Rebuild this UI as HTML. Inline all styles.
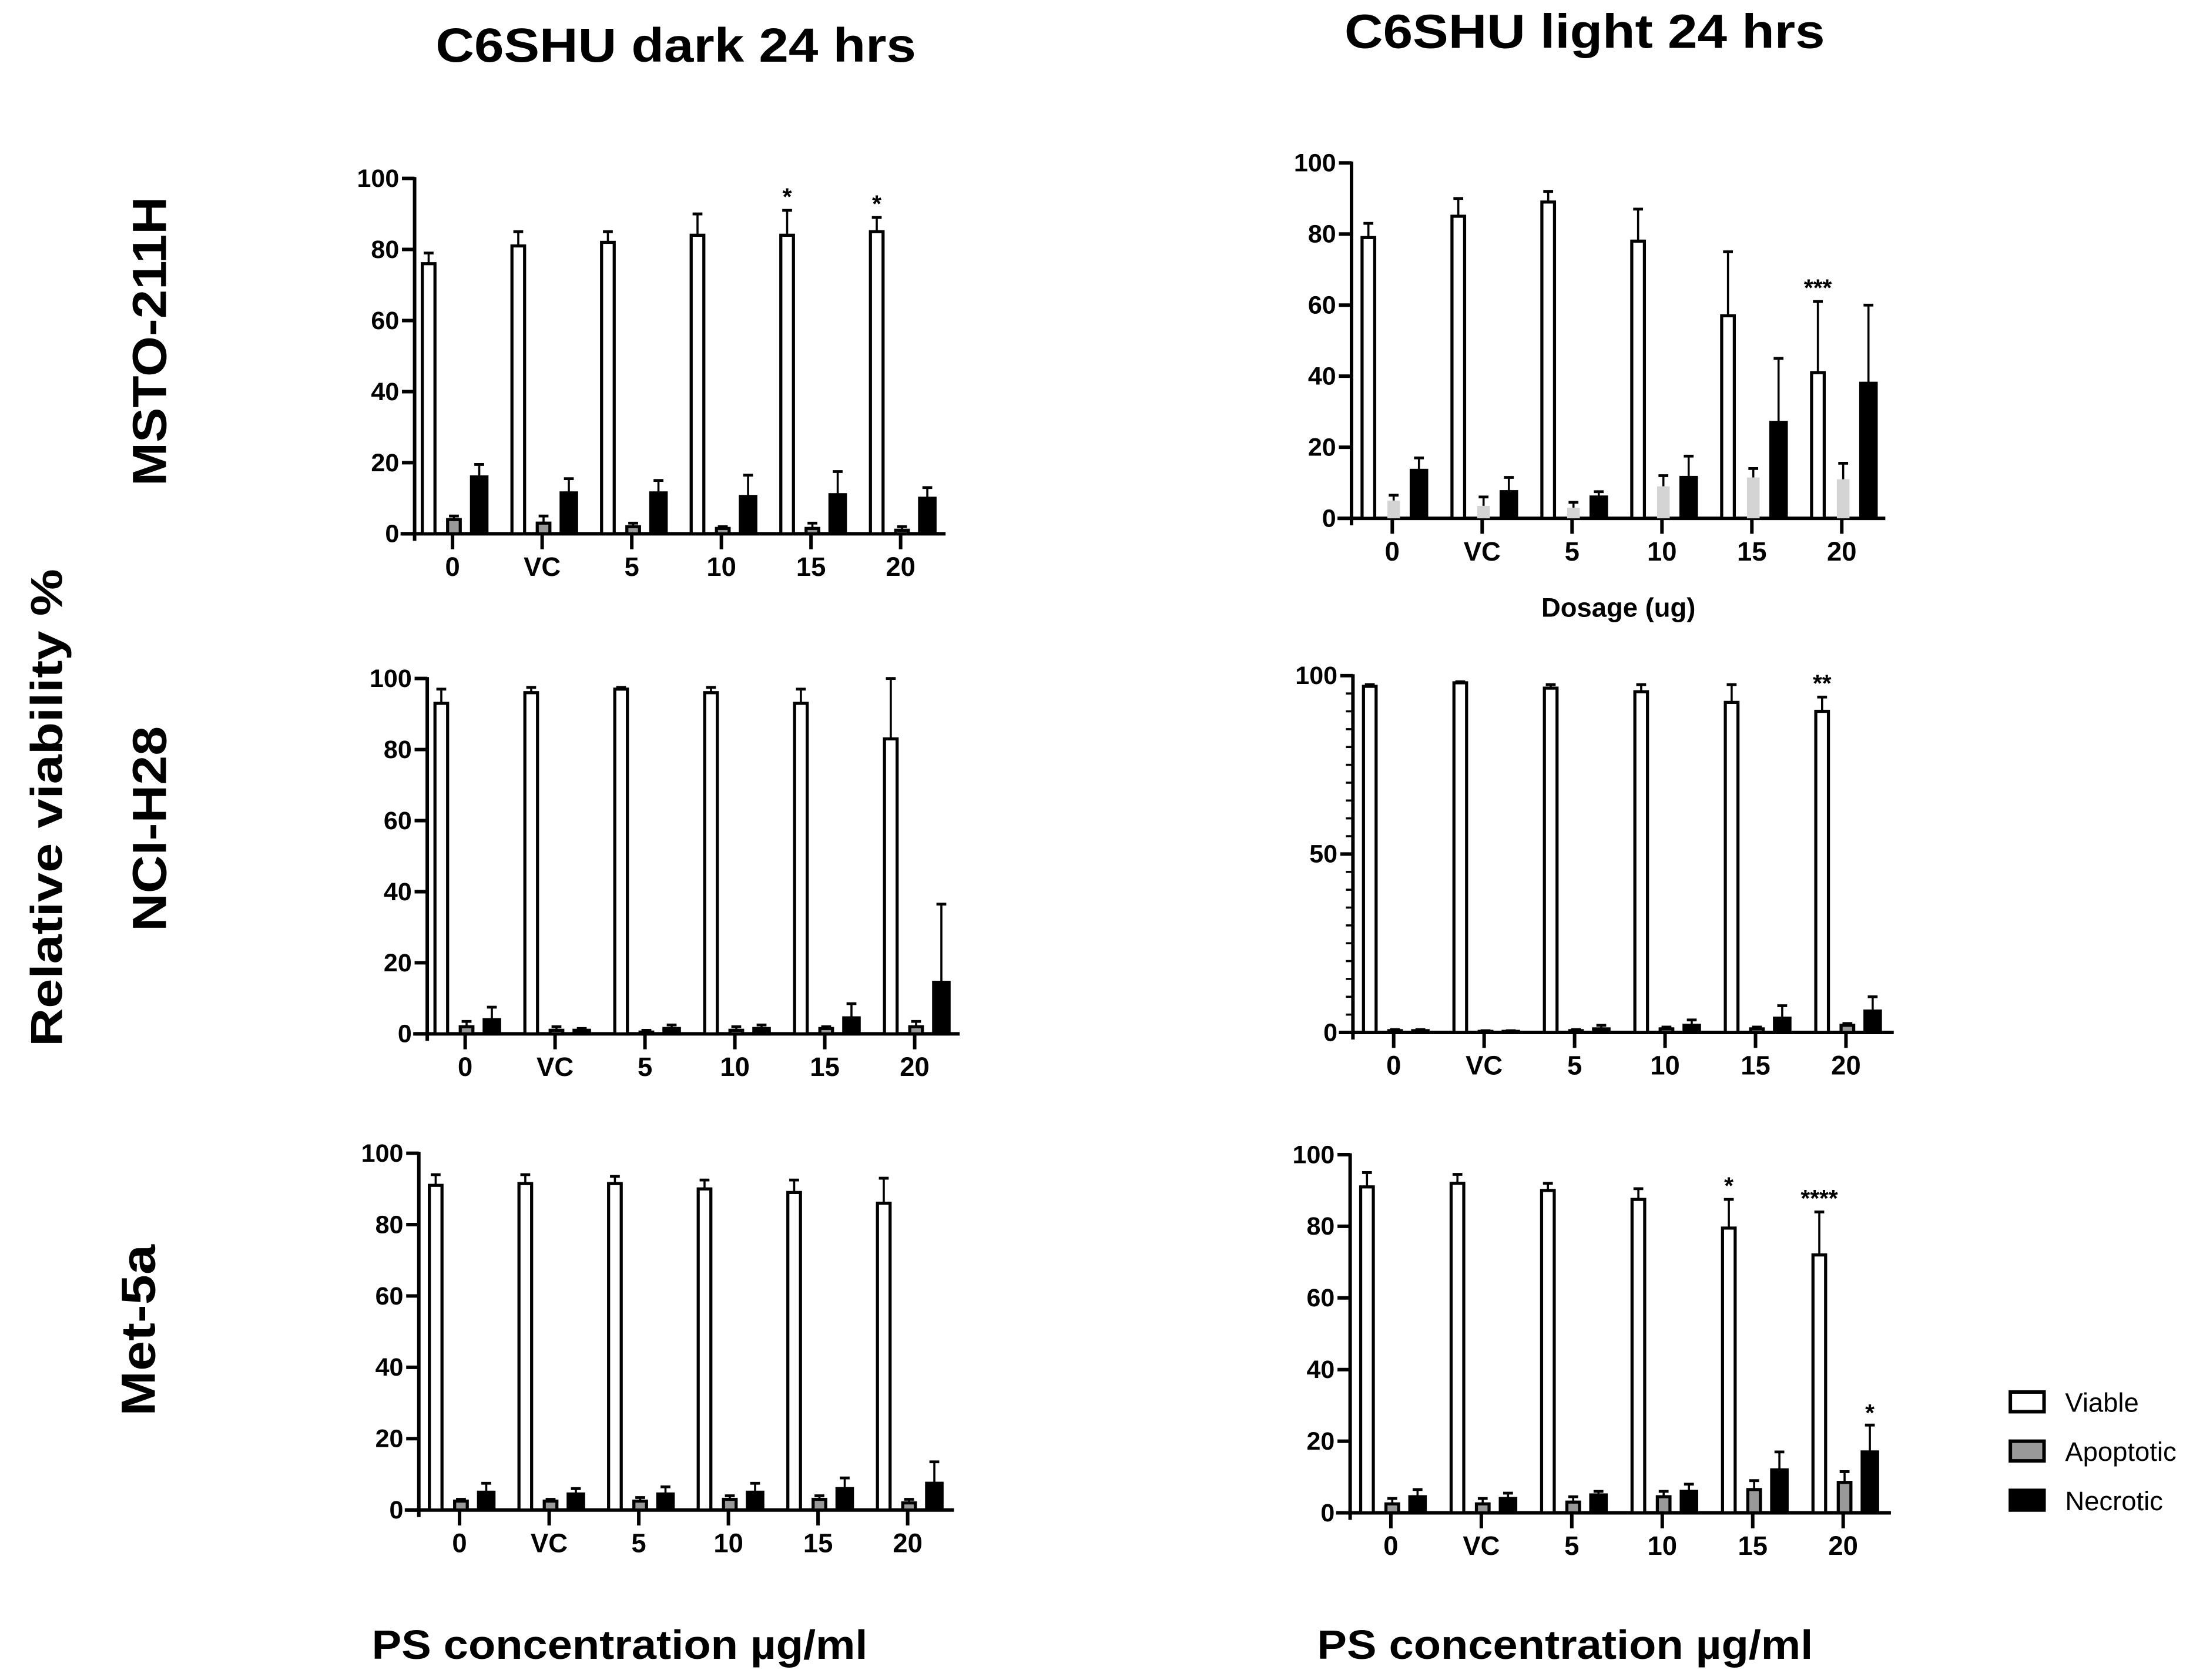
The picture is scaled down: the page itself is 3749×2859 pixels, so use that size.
<!DOCTYPE html>
<html><head><meta charset="utf-8"><style>html,body{margin:0;padding:0;background:#fff}svg{display:block}</style></head>
<body>
<svg id="fig" xmlns="http://www.w3.org/2000/svg" width="3749" height="2859" viewBox="0 0 1568 1196" font-family="Liberation Sans, sans-serif">
<rect width="1568" height="1196" fill="#fff"/>
<text x="481" y="44" font-size="34" font-weight="bold" text-anchor="middle" textLength="342" lengthAdjust="spacingAndGlyphs">C6SHU dark 24 hrs</text>
<text x="1128" y="34" font-size="34" font-weight="bold" text-anchor="middle" textLength="342" lengthAdjust="spacingAndGlyphs">C6SHU light 24 hrs</text>
<text transform="translate(118,243) rotate(-90)" font-size="34" font-weight="bold" text-anchor="middle" textLength="206" lengthAdjust="spacingAndGlyphs">MSTO-211H</text>
<text transform="translate(118,590) rotate(-90)" font-size="34" font-weight="bold" text-anchor="middle" textLength="146" lengthAdjust="spacingAndGlyphs">NCI-H28</text>
<text transform="translate(110,947) rotate(-90)" font-size="34" font-weight="bold" text-anchor="middle" textLength="122" lengthAdjust="spacingAndGlyphs">Met-5a</text>
<text transform="translate(44,575) rotate(-90)" font-size="32" font-weight="bold" text-anchor="middle" textLength="340" lengthAdjust="spacingAndGlyphs">Relative viability %</text>
<text x="441" y="1181" font-size="29" font-weight="bold" text-anchor="middle" textLength="353" lengthAdjust="spacingAndGlyphs">PS concentration µg/ml</text>
<text x="1114" y="1181" font-size="29" font-weight="bold" text-anchor="middle" textLength="353" lengthAdjust="spacingAndGlyphs">PS concentration µg/ml</text>
<text x="1152" y="439" font-size="19" font-weight="bold" text-anchor="middle">Dosage (ug)</text>
<g font-size="19">
<rect x="1431" y="991" width="24" height="14" fill="#fff" stroke="#000" stroke-width="2.5"/>
<text x="1470" y="1005">Viable</text>
<rect x="1431" y="1026" width="24" height="14" fill="#999" stroke="#000" stroke-width="2.5"/>
<text x="1470" y="1040">Apoptotic</text>
<rect x="1431" y="1061" width="24" height="14" fill="#000" stroke="#000" stroke-width="2.5"/>
<text x="1470" y="1075">Necrotic</text>
</g>
</svg>
<script>
const categories = ["0","VC","5","10","15","20"];
// Panel A: dark MSTO-211H
const aViable = [76,81,82,84,84,85], aViableErr = [3,4,3,6,7,4];
const aApop = [4,3,2,1.5,1.5,1], aApopErr = [1,2,1,0.5,1.5,1];
const aNec = [16,11.5,11.5,10.5,11,10], aNecErr = [3.5,4,3.5,6,6.5,3];
const aStars = ["","","","","*","*"];
// Panel B: light MSTO-211H
const bViable = [79,85,89,78,57,41], bViableErr = [4,5,3,9,18,20];
const bApop = [5,3.5,3,9,11.5,11], bApopErr = [1.5,2.5,1.5,3,2.5,4.5];
const bNec = [13.5,7.5,6,11.5,27,38], bNecErr = [3.5,4,1.5,6,18,22];
const bStars = ["","","","","","***"];
// Panel C: dark NCI-H28
const cViable = [93,96,97,96,93,83], cViableErr = [4,1.5,0.5,1.5,4,17];
const cApop = [2,1,0.5,1,1.5,2], cApopErr = [1.5,1,0.5,1,0.5,1.5];
const cNec = [4,1,1.5,1.5,4.5,14.5], cNecErr = [3.5,0.5,1,1,4,22];
const cStars = ["","","","","",""];
// Panel D: light NCI-H28
const dViable = [97,98,96.5,95.5,92.5,90], dViableErr = [0.5,0.3,1,2,5,4];
const dApop = [0.5,0.3,0.5,1,1,2], dApopErr = [0.3,0.2,0.3,0.5,0.5,0.5];
const dNec = [0.5,0.3,1,2,4,6], dNecErr = [0.3,0.2,1,1.5,3.5,4];
const dStars = ["","","","","","**"];
// Panel E: dark Met-5a
const eViable = [91,91.5,91.5,90,89,86], eViableErr = [3,2.5,2,2.5,3.5,7];
const eApop = [2.5,2.5,2.5,3,3,2], eApopErr = [0.5,0.5,1,1,1,1];
const eNec = [5,4.5,4.5,5,6,7.5], eNecErr = [2.5,1.5,2,2.5,3,6];
const eStars = ["","","","","",""];
// Panel F: light Met-5a
const fViable = [91,92,90,87.5,79.5,72], fViableErr = [4,2.5,2,3,8,12];
const fApop = [2.5,2.5,3,4.5,6.5,8.5], fApopErr = [1.5,1.5,1.5,1.5,2.5,3];
const fNec = [4.5,4,5,6,12,17], fNecErr = [2,1.5,1,2,5,7.5];
const fStars = ["","","","","*","****"];
const fNecStars = ["","","","","","*"];
const yTicksStd = [0,20,40,60,80,100];
const yTicksD = [0,50,100];

const NS = "http://www.w3.org/2000/svg";
const svg = document.getElementById("fig");
function mk(tag, attrs, parent) {
  const e = document.createElementNS(NS, tag);
  for (const k in attrs) e.setAttribute(k, attrs[k]);
  parent.appendChild(e);
  return e;
}
function panel(id, g0, ax, y0, y100, xEnd, c0, step, viable, vErr, apop, aErr, nec, nErr, stars, apopFill, apopStroke, ticks, minor, necStars) {
  const g = mk("g", {}, svg);
  
  
  const ys = v => y0 - (y0 - y100) * v / 100;
  const xs = i => c0 + i * step;
  const ya = mk("line", {x1: ax, y1: y100 - 1, x2: ax, y2: y0 + 5, stroke: "#000", "stroke-width": 2.5}, g);
  
  
  const xa = mk("line", {x1: ax - 10, y1: y0, x2: xEnd, y2: y0, stroke: "#000", "stroke-width": 2.5}, g);
  
  
  if (minor) {
    for (let v = 0; v <= 100; v += 5) {
      const m = mk("line", {x1: ax - 5, y1: ys(v), x2: ax, y2: ys(v), stroke: "#000", "stroke-width": 1.5}, g);
      
      
    }
  }
  ticks.forEach(v => {
    const t = mk("line", {x1: ax - 9, y1: ys(v), x2: ax, y2: ys(v), stroke: "#000", "stroke-width": 2.5}, g);
    
    
    const l = mk("text", {x: ax - 11, y: ys(v) + 6, "font-size": 18, "font-weight": "bold", "text-anchor": "end"}, g);
    
    
    l.textContent = v;
  });
  categories.forEach((c, i) => {
    const x = xs(i);
    const t = mk("line", {x1: x, y1: y0, x2: x, y2: y0 + 11, stroke: "#000", "stroke-width": 2.5}, g);
    
    
    const l = mk("text", {x: x, y: y0 + 30, "font-size": 19, "font-weight": "bold", "text-anchor": "middle"}, g);
    
    
    l.textContent = c;
    const series = [
      {v: viable[i], e: vErr[i], dx: -17, w: 9, fill: "#fff", stroke: "#000", n: "bar-viable"},
      {v: apop[i], e: aErr[i], dx: 1, w: 9, fill: apopFill, stroke: apopStroke, n: "bar-apoptotic"},
      {v: nec[i], e: nErr[i], dx: 19, w: 11, fill: "#000", stroke: "#000", n: "bar-necrotic"}
    ];
    series.forEach(s => {
      const cx = x + s.dx;
      const top = ys(s.v + s.e);
      const eb = mk("line", {x1: cx, y1: ys(s.v), x2: cx, y2: top, stroke: "#000", "stroke-width": 1.5}, g);
      
      
      const cap = mk("line", {x1: cx - 3.5, y1: top, x2: cx + 3.5, y2: top, stroke: "#000", "stroke-width": 2}, g);
      
      
      const r = mk("rect", {x: cx - s.w / 2, y: ys(s.v), width: s.w, height: Math.max(0, y0 - ys(s.v)), fill: s.fill, stroke: s.stroke, "stroke-width": s.stroke === "none" ? 0 : 2.2}, g);
      
      
    });
    if (stars[i]) {
      const st = mk("text", {x: x - 17, y: ys(viable[i] + vErr[i]) - 4, "font-size": 17, "font-weight": "bold", "text-anchor": "middle"}, g);
      
      
      st.textContent = stars[i];
    }
    if (necStars && necStars[i]) {
      const st = mk("text", {x: x + 19, y: ys(nec[i] + nErr[i]) - 3, "font-size": 17, "font-weight": "bold", "text-anchor": "middle"}, g);
      
      
      st.textContent = necStars[i];
    }
  });
}
panel("dark-msto", 0, 295, 380, 127, 673, 322, 63.8, aViable, aViableErr, aApop, aApopErr, aNec, aNecErr, aStars, "#999", "#000", yTicksStd, false);
panel("light-msto", 0, 962, 369, 116, 1342, 991, 64, bViable, bViableErr, bApop, bApopErr, bNec, bNecErr, bStars, "#d4d4d4", "none", yTicksStd, false);
panel("dark-nci", 0, 304, 736, 483, 683, 331, 64, cViable, cViableErr, cApop, cApopErr, cNec, cNecErr, cStars, "#999", "#000", yTicksStd, false);
panel("light-nci", 0, 963, 735, 481, 1348, 992, 64.4, dViable, dViableErr, dApop, dApopErr, dNec, dNecErr, dStars, "#999", "#000", yTicksD, true);
panel("dark-met", 0, 298, 1075, 821, 679, 327, 63.8, eViable, eViableErr, eApop, eApopErr, eNec, eNecErr, eStars, "#999", "#000", yTicksStd, false);
panel("light-met", 0, 961, 1077, 822, 1346, 990, 64.4, fViable, fViableErr, fApop, fApopErr, fNec, fNecErr, fStars, "#999", "#000", yTicksStd, false, fNecStars);
</script>
</body></html>
